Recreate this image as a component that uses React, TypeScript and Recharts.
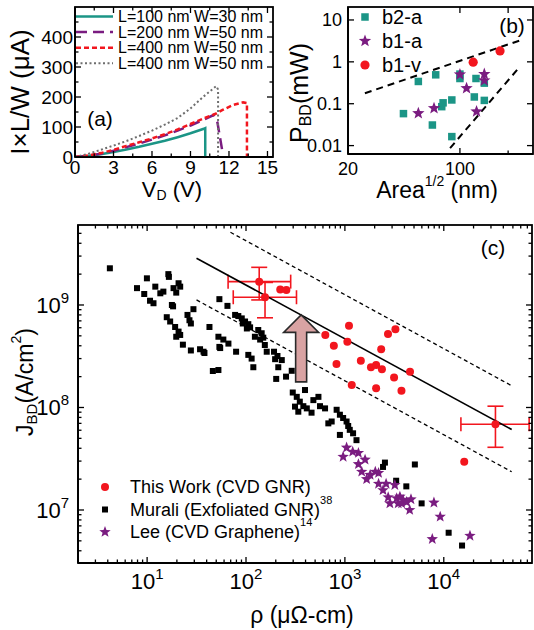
import React from 'react';
import {
  ComposedChart,
  Scatter,
  XAxis,
  YAxis,
  ErrorBar,
  ReferenceDot,
  Customized,
} from 'recharts';

const FONT = "'Liberation Sans', Arial, Helvetica, sans-serif";

// ---------- panel (a): I×L/W vs V_D ----------
const A_LABELS = ['L=100 nm W=30 nm', 'L=200 nm W=50 nm', 'L=400 nm W=50 nm', 'L=400 nm W=50 nm'];
const V_TEAL = [0, 1, 2, 3, 4, 5, 6, 7, 8, 9, 10.1, 10.15, 10.15];
const I_TEAL = [0, 3, 9, 17, 25, 34, 44, 54, 66, 79, 95, 96, 0];
const V_PURPLE = [0, 1, 2, 3, 4, 5, 6, 7, 8, 9, 10, 10.8, 11.1, 11.5];
const I_PURPLE = [0, 4, 11, 21, 33, 45, 58, 72, 88, 105, 124, 140, 115, 15];
const V_RED = [0, 1, 2, 3, 4, 5, 6, 7, 8, 9, 10, 11, 11.5, 12.3, 13.1, 13.4, 13.4];
const I_RED = [0, 5, 13, 24, 37, 49, 62, 76, 92, 110, 128, 145, 157, 173, 182, 180, 0];
const V_GRAY = [0, 1, 2, 3, 4, 5, 6, 7, 8, 9, 10, 11, 11.15, 11.15];
const I_GRAY = [0, 10, 24, 38, 53, 70, 88, 108, 130, 162, 201, 236, 225, 0];
const X_A_MAJOR = [0, 3, 6, 9, 12, 15];
const X_A_TICKS = [0, 1.5, 3, 4.5, 6, 7.5, 9, 10.5, 12, 13.5, 15];
const Y_A_MAJOR = [0, 100, 200, 300, 400];
const Y_A_TICKS = [0, 50, 100, 150, 200, 250, 300, 350, 400, 450];

// ---------- panel (b): P_BD vs Area^1/2 ----------
const B2A = [[44.4, 0.058], [55, 0.34], [70.6, 0.49], [67.3, 0.031], [77, 0.085], [78.5, 0.105],
  [89, 0.123], [89, 0.0164], [100, 0.51], [100, 0.4], [126, 0.4], [123, 0.145], [142, 0.12], [142, 0.31]];
const B1A = [[55, 0.059], [68.9, 0.078], [100, 0.5], [110, 0.234], [127, 0.065], [142, 0.51], [142, 0.36]];
const B1V = [[121, 0.98], [178, 1.82]];
const B_UPPER = [[25.5, 0.178], [249, 3.46]];
const B_LOWER = [[86.8, 0.0087], [232, 0.7]];
const B_LABELS = ['b2-a', 'b1-a', 'b1-v'];
const X_B_TICKS = [20, 100, 200];
const X_B_LABELED = [20, 100];
const Y_B_TICKS = [0.01, 0.1, 1, 10];

// ---------- panel (c): J_BD vs rho ----------
const THIS_WORK = [[222, 1.42e9], [256, 1.4e9], [634, 5.1e8], [773, 4.0e8], [822, 2.66e8], [1100, 6.28e8],
  [1059, 4.38e8], [1173, 1.66e8], [1449, 2.86e8], [1835, 2.47e8], [2069, 2.6e8], [2368, 2.36e8],
  [2069, 1.54e8], [2328, 3.7e8], [2729, 5.2e8], [3243, 5.8e8], [3143, 1.96e8], [3733, 1.46e8],
  [4556, 2.23e8], [16100, 2.96e7]];
const ERR_RHO = [136, 155.7, 33300];
const ERR_J = [1.69e9, 1.19e9, 6.86e7];
const ERR_RHO_LO = [65.9, 74.3, 14900];
const ERR_RHO_HI = [283, 324, 73000];
const ERR_J_LO = [1.12e9, 7.5e8, 4.09e7];
const ERR_J_HI = [2.33e9, 1.66e9, 1.03e8];
const MURALI = [[4.2, 2.28e9], [7.9, 1.46e9], [9.95, 1.82e9], [9.35, 1.28e9], [12.1, 1.51e9], [10.7, 1.1e9],
  [11.6, 1.04e9], [13.6, 1.3e9], [14.6, 1.35e9], [16.4, 2.0e9], [16.6, 1.88e9], [18.5, 1.46e9],
  [20.8, 1.63e9], [21.6, 1.51e9], [19.7, 1.32e9], [17.8, 1.0e9], [18.3, 0.97e9], [15.8, 7.6e8],
  [17.1, 6.9e8], [19.2, 6.1e8], [20.8, 5.5e8], [21.6, 5.1e8], [19.7, 4.9e8], [23, 4.1e8], [27.7, 3.6e8],
  [34.3, 3.7e8], [38, 3.4e8], [25.6, 8.0e8], [26.8, 7.1e8], [27.7, 6.6e8], [29.4, 9.1e8], [42.7, 6.1e8],
  [46.2, 2.27e8], [52.6, 2.32e8], [53.8, 1.14e9], [52.6, 4.9e8], [53.8, 3.9e8], [64.9, 9.8e8],
  [59, 4.6e8], [66.4, 4.2e8], [54.8, 3.8e8], [37.2, 3.5e8], [79.4, 3.5e8], [77.6, 8.0e8], [83.6, 7.8e8],
  [90.6, 7.4e8], [97.8, 6.9e8], [105.5, 6.5e8], [110, 6.05e8], [102, 5.9e8], [92.8, 6.6e8],
  [105.5, 3.26e8], [114, 3.0e8], [118.6, 2.47e8], [133, 5.7e8], [144, 5.3e8], [123, 4.9e8],
  [139, 4.6e8], [149.5, 4.8e8], [155, 4.07e8], [162, 3.5e8], [192, 3.5e8], [208, 3.18e8], [230, 2.9e8],
  [197, 2.96e8], [212, 2.47e8], [202, 1.9e8], [254, 2.0e8], [290, 2.28e8], [297, 1.4e8], [326, 1.27e8],
  [395, 1.48e8], [350, 1.14e8], [313, 1.02e8], [338, 9.1e7], [380, 1.03e8], [412, 9.8e7], [480, 1.18e8],
  [540, 1.27e8], [560, 1.03e8], [630, 9.8e7], [460, 8.9e7], [825, 9.5e7], [890, 8.5e7], [960, 7.9e7],
  [1040, 7.3e7], [680, 7.0e7], [890, 5.4e7], [1080, 6.6e7], [735, 7.3e7], [1210, 5.6e7], [1310, 4.8e7],
  [1120, 6.05e7], [2540, 2.9e7], [2430, 2.63e7], [5100, 2.78e7], [3300, 1.93e7], [4180, 1.7e7],
  [5970, 1.16e7], [11200, 6.0e6], [15300, 4.5e6]];
const LEE = [[1040, 4.06e7], [960, 3.3e7], [1200, 3.7e7], [1370, 3.6e7], [1600, 3.1e7], [1370, 2.8e7],
  [1480, 2.36e7], [1800, 2.2e7], [2030, 2.36e7], [2190, 2.3e7], [1660, 2.0e7], [2190, 1.8e7],
  [2610, 1.8e7], [3200, 1.75e7], [2430, 1.56e7], [2740, 1.33e7], [2850, 1.16e7], [3340, 1.3e7],
  [3600, 1.35e7], [3880, 1.25e7], [3750, 1.16e7], [4210, 1.2e7], [3460, 1.16e7], [4660, 1.27e7],
  [4520, 1.0e7], [7950, 1.18e7], [9200, 8.6e6], [7650, 5.2e6], [18400, 5.6e6]];
const FIT_SOLID = [[31.6, 2.86e9], [48600, 6.1e7]];
const FIT_UPPER = [[69.6, 5.12e9], [48600, 1.63e8]];
const FIT_LOWER = [[31.6, 1.12e9], [48600, 2.36e7]];
const ARROW_TIP = { x: 361, y: 8.0e8 };
const X_C_MAJOR = [10, 100, 1000, 10000];
const Y_C_MAJOR = [1e7, 1e8, 1e9];

const TEAL = '#1b9586';
const PURPLE = '#7a1c80';
const RED = '#f2161e';

type Pt = { x: number; y: number };
const zip = (xs: number[], ys: number[]): Pt[] => xs.map((x, i) => ({ x, y: ys[i] }));
const pts = (ps: number[][]): Pt[] => ps.map(([x, y]) => ({ x, y }));

// minor ticks 2..9 per decade within [lo, hi]
function logTicks(lo: number, hi: number) {
  const out: number[] = [];
  for (let e = Math.floor(Math.log10(lo)); e <= Math.ceil(Math.log10(hi)); e++) {
    for (let m = 1; m < 10; m++) {
      const v = m * Math.pow(10, e);
      if (v >= lo && v <= hi) out.push(v);
    }
  }
  return out;
}

const AXIS = { stroke: '#000', strokeWidth: 1.8 };
const TICK_ST = { stroke: '#000', strokeWidth: 1.3 };
const noDot = () => <g />;
const isIn = (list: number[], v: number) => list.some((m) => Math.abs(m - v) <= Math.abs(m) * 1e-6);

function Tick(props: any) {
  const { x, y, payload, side, majors, fmt, font = 18, gap = 6, majorLen = 6, minorLen = 3.5 } = props;
  const v = payload.value as number;
  const isMajor = isIn(majors, v);
  const len = isMajor ? majorLen : minorLen;
  const tp = { fontFamily: FONT, fontSize: font, fill: '#000' };
  let tl = null;
  let label = null;
  if (side === 'bottom') {
    tl = <line x1={x} x2={x} y1={y} y2={y - len} {...TICK_ST} />;
    if (isMajor && fmt) label = <text x={x} y={y + gap} textAnchor="middle" {...tp}>{fmt(v)}</text>;
  } else {
    tl = <line x1={x} x2={x + len} y1={y} y2={y} {...TICK_ST} />;
    if (isMajor && fmt) label = <text x={x - gap} y={y + font * 0.36} textAnchor="end" {...tp}>{fmt(v)}</text>;
  }
  return <g>{tl}{label}</g>;
}

// closed plot frame with inward mirror ticks on top / right (box = plot area in px)
function FrameOverlay({ w, h, box, xd, yd, xTicks, yTicks, xMajors, yMajors, log }: any) {
  const f = (v: number) => (log ? Math.log10(v) : v);
  const px = (v: number) => box.l + ((f(v) - f(xd[0])) / (f(xd[1]) - f(xd[0]))) * (box.r - box.l);
  const py = (v: number) => box.b - ((f(v) - f(yd[0])) / (f(yd[1]) - f(yd[0]))) * (box.b - box.t);
  return (
    <svg width={w} height={h}
      style={{ position: 'absolute', left: 0, top: 0, zIndex: 10, pointerEvents: 'none', overflow: 'visible' }}>
      <rect x={box.l} y={box.t} width={box.r - box.l} height={box.b - box.t} fill="none" {...AXIS} />
      {xTicks.map((v: number) => (
        <line key={`x${v}`} x1={px(v)} x2={px(v)} y1={box.t} y2={box.t + (isIn(xMajors, v) ? 6 : 3.5)} {...TICK_ST} />
      ))}
      {yTicks.map((v: number) => (
        <line key={`y${v}`} x1={box.r} x2={box.r - (isIn(yMajors, v) ? 6 : 3.5)} y1={py(v)} y2={py(v)} {...TICK_ST} />
      ))}
    </svg>
  );
}

const pow10 = (v: number) => (
  <>10<tspan dy={-10} fontSize={15}>{Math.round(Math.log10(v))}</tspan></>
);

const starPts = (cx: number, cy: number, R: number) =>
  Array.from({ length: 10 }, (_, k) => {
    const a = -Math.PI / 2 + (k * Math.PI) / 5;
    const r = k % 2 === 0 ? R : R * 0.42;
    return `${cx + r * Math.cos(a)},${cy + r * Math.sin(a)}`;
  }).join(' ');

const square = (s: number, fill: string) => (p: any) =>
  <rect x={p.cx - s / 2} y={p.cy - s / 2} width={s} height={s} fill={fill} />;
const circle = (r: number, fill: string) => (p: any) => <circle cx={p.cx} cy={p.cy} r={r} fill={fill} />;
const star = (R: number, fill: string) => (p: any) => <polygon points={starPts(p.cx, p.cy, R)} fill={fill} />;

const txt = { fontFamily: FONT, fill: '#000' };

// ---------------- panel (a) ----------------
const A_STYLES = [
  { stroke: TEAL, strokeWidth: 2.5 },
  { stroke: PURPLE, strokeWidth: 2.5, strokeDasharray: '11 6' },
  { stroke: RED, strokeWidth: 2.5, strokeDasharray: '5 3' },
  { stroke: '#6e6e6e', strokeWidth: 2, strokeDasharray: '2 2.5' },
];
const A_XD = [0, 15.43];
const A_YD = [0, 500];

const PanelAExtras = () => (
  <g>
    {A_LABELS.map((l, i) => {
      const y = 16.5 + i * 15.6;
      return (
        <g key={i}>
          <line x1={76} x2={113} y1={y} y2={y} {...A_STYLES[i]} />
          <text x={118} y={y} dominantBaseline="central" fontSize={16} {...txt}>{l}</text>
        </g>
      );
    })}
    <text x={100} y={118} textAnchor="middle" dominantBaseline="central" fontSize={21} {...txt}>(a)</text>
    <text transform="translate(20,92) rotate(-90)" textAnchor="middle" dominantBaseline="central" fontSize={26} {...txt}>
      I×L/W (μA)
    </text>
    <text x={172} y={189} textAnchor="middle" dominantBaseline="central" fontSize={22} {...txt}>
      V<tspan fontSize={14} dy={6}>D</tspan><tspan dy={-6}> (V)</tspan>
    </text>
  </g>
);

function PanelA() {
  const series = [zip(V_TEAL, I_TEAL), zip(V_PURPLE, I_PURPLE), zip(V_RED, I_RED), zip(V_GRAY, I_GRAY)];
  return (
    <div style={{ position: 'relative', width: 280, height: 210 }}>
      <ComposedChart width={280} height={210} margin={{ top: 7, right: 7, bottom: 13, left: 20 }}>
        <XAxis dataKey="x" type="number" domain={A_XD} allowDataOverflow ticks={X_A_TICKS} interval={0}
          height={40} tickLine={false} tickSize={0} tickMargin={0} axisLine={AXIS}
          tick={(p: any) => <Tick {...p} side="bottom" majors={X_A_MAJOR} fmt={String} font={19} gap={17} />} />
        <YAxis dataKey="y" type="number" domain={A_YD} allowDataOverflow ticks={Y_A_TICKS} interval={0}
          width={55} tickLine={false} tickSize={0} tickMargin={0} axisLine={AXIS}
          tick={(p: any) => <Tick {...p} side="left" majors={Y_A_MAJOR} fmt={String} font={19} gap={2} />} />
        {series.map((d, i) => (
          <Scatter key={i} data={d} line={A_STYLES[i]} lineType="joint" shape={noDot} isAnimationActive={false} />
        ))}
        <Customized component={PanelAExtras} />
      </ComposedChart>
      <FrameOverlay w={280} h={210} box={{ l: 75, r: 273, t: 7, b: 157 }} xd={A_XD} yd={A_YD}
        xTicks={X_A_TICKS} yTicks={Y_A_TICKS} xMajors={X_A_MAJOR} yMajors={Y_A_MAJOR} />
    </div>
  );
}

// ---------------- panel (b) ----------------
const B_MARKERS = [square(7.5, TEAL), star(6.5, PURPLE), circle(4.6, RED)];
const B_XD = [20, 286];
const B_YD = [0.0063, 20.4];

const PanelBExtras = () => (
  <g>
    {B_LABELS.map((l, i) => {
      const y = 17 + i * 24;
      return (
        <g key={l}>
          {B_MARKERS[i]({ cx: 95, cy: y })}
          <text x={112} y={y} dominantBaseline="central" fontSize={20} {...txt}>{l}</text>
        </g>
      );
    })}
    <text x={242} y={25} textAnchor="middle" dominantBaseline="central" fontSize={21} {...txt}>(b)</text>
    <text transform="translate(29,93) rotate(-90)" textAnchor="middle" dominantBaseline="central" fontSize={25} {...txt}>
      P<tspan fontSize={16} dy={6}>BD</tspan><tspan dy={-6}>(mW)</tspan>
    </text>
    <text x={167} y={190} textAnchor="middle" dominantBaseline="central" fontSize={23} {...txt}>
      Area<tspan fontSize={14} dy={-9}>1/2</tspan><tspan dy={9}> (nm)</tspan>
    </text>
  </g>
);

function PanelB() {
  const dash = { stroke: '#000', strokeWidth: 2, strokeDasharray: '7 5' };
  return (
    <div style={{ position: 'relative', width: 264, height: 205 }}>
      <ComposedChart width={264} height={205} margin={{ top: 7, right: 1, bottom: 11, left: 28 }}>
        <XAxis dataKey="x" type="number" scale="log" domain={B_XD} allowDataOverflow ticks={X_B_TICKS} interval={0}
          height={40} tickLine={false} tickSize={0} tickMargin={0} axisLine={AXIS}
          tick={(p: any) => <Tick {...p} side="bottom" majors={X_B_LABELED} fmt={String} font={18} gap={21} />} />
        <YAxis dataKey="y" type="number" scale="log" domain={B_YD} allowDataOverflow ticks={Y_B_TICKS}
          interval={0} width={50} tickLine={false} tickSize={0} tickMargin={0} axisLine={AXIS}
          tick={(p: any) => <Tick {...p} side="left" majors={Y_B_TICKS} fmt={String} font={18} gap={6} />} />
        <Scatter data={pts(B_UPPER)} line={dash} lineType="joint" shape={noDot} isAnimationActive={false} />
        <Scatter data={pts(B_LOWER)} line={dash} lineType="joint" shape={noDot} isAnimationActive={false} />
        <Scatter data={pts(B2A)} shape={B_MARKERS[0]} isAnimationActive={false} />
        <Scatter data={pts(B1A)} shape={B_MARKERS[1]} isAnimationActive={false} />
        <Scatter data={pts(B1V)} shape={B_MARKERS[2]} isAnimationActive={false} />
        <Customized component={PanelBExtras} />
      </ComposedChart>
      <FrameOverlay w={264} h={205} box={{ l: 78, r: 263, t: 7, b: 154 }} xd={B_XD} yd={B_YD} log
        xTicks={X_B_TICKS} yTicks={Y_B_TICKS} xMajors={X_B_TICKS} yMajors={Y_B_TICKS} />
    </div>
  );
}

// ---------------- panel (c) ----------------
const C_MARKERS = [circle(4, RED), square(6, '#000'), star(6, PURPLE)];
const C_XD = [2, 78000];
const C_YD = [3.04e6, 6.03e9];
const C_XTICKS = logTicks(2, 78000);
const C_YTICKS = logTicks(3.5e6, 5.9e9);

const PanelCExtras = () => (
  <g>
    {C_MARKERS.map((m, i) => <g key={i}>{m({ cx: 105, cy: 287 + i * 22.5 })}</g>)}
    <text x={130} y={287} dominantBaseline="central" fontSize={18} {...txt}>This Work (CVD GNR)</text>
    <text x={130} y={309.5} dominantBaseline="central" fontSize={18} {...txt}>
      Murali (Exfoliated GNR)<tspan fontSize={11} dy={-10}>38</tspan>
    </text>
    <text x={130} y={332} dominantBaseline="central" fontSize={18} {...txt}>
      Lee (CVD Graphene)<tspan fontSize={11} dy={-10}>14</tspan>
    </text>
    <text x={493} y={47} textAnchor="middle" dominantBaseline="central" fontSize={21} {...txt}>(c)</text>
    <text transform="translate(25,182) rotate(-90)" textAnchor="middle" dominantBaseline="central" fontSize={23} {...txt}>
      J<tspan fontSize={15} dy={6}>BD</tspan><tspan dy={-6}>(A/cm</tspan><tspan fontSize={14} dy={-9}>2</tspan>
      <tspan dy={9}>)</tspan>
    </text>
    <text x={302} y={415} textAnchor="middle" dominantBaseline="central" fontSize={23} {...txt}>ρ (μΩ-cm)</text>
  </g>
);

const Arrow = (p: any) => {
  const { cx, cy } = p;
  const d = `M${cx},${cy} L${cx + 17.5},${cy + 17.5} L${cx + 5.5},${cy + 17.5} L${cx + 5.5},${cy + 67}
    L${cx - 5.5},${cy + 67} L${cx - 5.5},${cy + 17.5} L${cx - 17.5},${cy + 17.5} Z`;
  return <path d={d} fill="#d9a3a3" stroke="#2a2a2a" strokeWidth={1.6} strokeLinejoin="miter" />;
};

function PanelC() {
  const errData = ERR_RHO.map((x, i) => ({
    x,
    y: ERR_J[i],
    ex: [x - ERR_RHO_LO[i], ERR_RHO_HI[i] - x],
    ey: [ERR_J[i] - ERR_J_LO[i], ERR_J_HI[i] - ERR_J[i]],
  }));
  const solid = { stroke: '#000', strokeWidth: 1.6 };
  const dashed = { stroke: '#000', strokeWidth: 1.3, strokeDasharray: '4 3' };
  return (
    <div style={{ position: 'relative', width: 534, height: 430 }}>
      <ComposedChart width={534} height={430} margin={{ top: 25, right: 2, bottom: 17, left: 18 }}>
        <XAxis dataKey="x" type="number" scale="log" domain={C_XD} allowDataOverflow ticks={C_XTICKS} interval={0}
          height={50} tickLine={false} tickSize={0} tickMargin={0} axisLine={AXIS}
          tick={(p: any) => <Tick {...p} side="bottom" majors={X_C_MAJOR} fmt={pow10} font={22} gap={26} />} />
        <YAxis dataKey="y" type="number" scale="log" domain={C_YD} allowDataOverflow ticks={C_YTICKS} interval={0}
          width={60} tickLine={false} tickSize={0} tickMargin={0} axisLine={AXIS}
          tick={(p: any) => <Tick {...p} side="left" majors={Y_C_MAJOR} fmt={pow10} font={22} gap={9} />} />
        <Scatter data={pts(MURALI)} shape={C_MARKERS[1]} isAnimationActive={false} />
        <Scatter data={pts(LEE)} shape={C_MARKERS[2]} isAnimationActive={false} />
        <Scatter data={pts(FIT_UPPER)} line={dashed} lineType="joint" shape={noDot} isAnimationActive={false} />
        <Scatter data={pts(FIT_LOWER)} line={dashed} lineType="joint" shape={noDot} isAnimationActive={false} />
        <Scatter data={pts(FIT_SOLID)} line={solid} lineType="joint" shape={noDot} isAnimationActive={false} />
        <ReferenceDot x={ARROW_TIP.x} y={ARROW_TIP.y} shape={Arrow} />
        <Scatter data={pts(THIS_WORK)} shape={C_MARKERS[0]} isAnimationActive={false} />
        <Scatter data={errData} shape={C_MARKERS[0]} isAnimationActive={false}>
          <ErrorBar dataKey="ex" direction="x" width={7} stroke={RED} strokeWidth={1.6} isAnimationActive={false} />
          <ErrorBar dataKey="ey" direction="y" width={8} stroke={RED} strokeWidth={1.6} isAnimationActive={false} />
        </Scatter>
        <Customized component={PanelCExtras} />
      </ComposedChart>
      <FrameOverlay w={534} h={430} box={{ l: 78, r: 532, t: 25, b: 363 }} xd={C_XD} yd={C_YD} log
        xTicks={C_XTICKS} yTicks={C_YTICKS} xMajors={X_C_MAJOR} yMajors={Y_C_MAJOR} />
    </div>
  );
}

export default function App() {
  return (
    <div style={{ position: 'absolute', left: 0, top: 0, width: 534, height: 630, background: '#fff', fontFamily: FONT }}>
      <div style={{ position: 'absolute', left: 0, top: 0 }}><PanelA /></div>
      <div style={{ position: 'absolute', left: 270, top: 0 }}><PanelB /></div>
      <div style={{ position: 'absolute', left: 0, top: 200 }}><PanelC /></div>
    </div>
  );
}
